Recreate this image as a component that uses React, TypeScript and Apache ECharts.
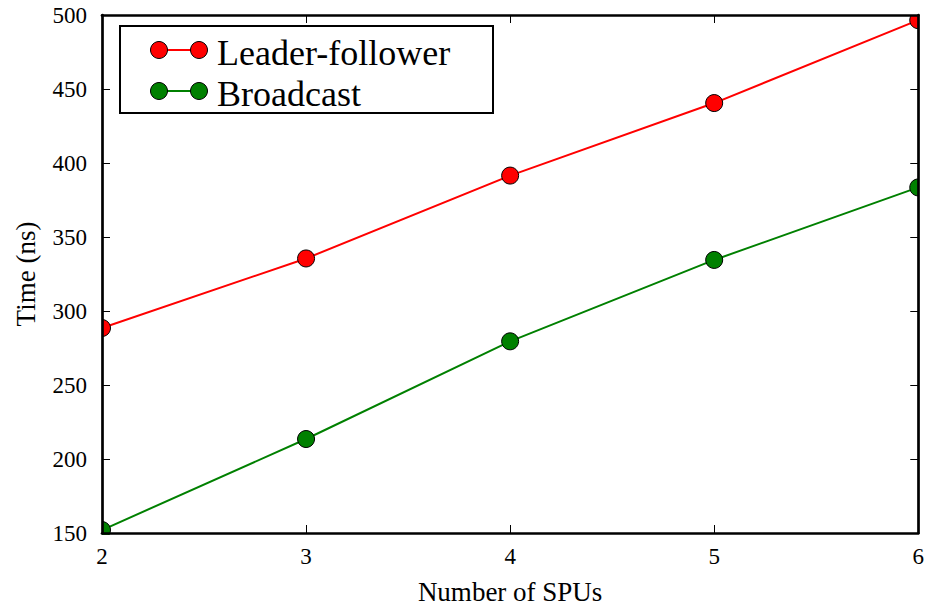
import React, { useEffect, useRef } from "react";
import * as echarts from "echarts";

const xCategories = [2, 3, 4, 5, 6];
const leaderFollower = [288.5, 335.5, 391.5, 440.5, 496.5];
const broadcast = [152, 213.5, 279.5, 334.5, 383.5];
const seriesNames = ["Leader-follower", "Broadcast"];
const seriesColors = ["#ff0000", "#008000"];

const FONT = "Liberation Serif";

export default function App() {
  const ref = useRef<HTMLDivElement>(null);
  useEffect(() => {
    if (!ref.current) return;
    const chart = echarts.init(ref.current, null, { renderer: "svg" });
    const gl = 102, gt = 15, gr = 919, gb = 535;
    const W = 927, H = 610;
    const cover = (x: number, y: number, w: number, h: number) => ({
      type: "rect",
      z: 5,
      silent: true,
      shape: { x, y, width: w, height: h },
      style: { fill: "#fff" },
    });
    const legendRows = seriesNames.map((name, i) => {
      const y = 50 + i * 41;
      return [
        { type: "line", z: 21, shape: { x1: 159, y1: y, x2: 199, y2: y }, style: { stroke: seriesColors[i], lineWidth: 2 } },
        { type: "circle", z: 22, shape: { cx: 159, cy: y, r: 8.5 }, style: { fill: seriesColors[i], stroke: "#000", lineWidth: 1 } },
        { type: "circle", z: 22, shape: { cx: 199, cy: y, r: 8.5 }, style: { fill: seriesColors[i], stroke: "#000", lineWidth: 1 } },
        { type: "text", z: 22, x: 217, y: y + 3, style: { text: name, font: `36px '${FONT}'`, fill: "#000", verticalAlign: "middle" } },
      ];
    }).flat();
    const commonAxisLine = { show: true, lineStyle: { color: "#000", width: 2.7 } };
    const tick = { show: true, inside: true, length: 8, lineStyle: { color: "#000", width: 1 } };
    chart.setOption({
      animation: false,
      grid: { left: gl, top: gt, right: W - gr, bottom: H - gb, containLabel: false },
      xAxis: [
        {
          type: "value", min: 2, max: 6, interval: 1, z: 10,
          name: "Number of SPUs", nameLocation: "middle", nameGap: 45,
          nameTextStyle: { fontFamily: FONT, fontSize: 27, color: "#000" },
          axisLine: commonAxisLine,
          axisTick: tick,
          axisLabel: { fontFamily: FONT, fontSize: 23, color: "#000", margin: 12 },
          splitLine: { show: false },
        },
        {
          type: "value", position: "top", min: 2, max: 6, interval: 1, z: 10,
          axisLine: commonAxisLine,
          axisTick: tick,
          axisLabel: { show: false },
          splitLine: { show: false },
        },
      ],
      yAxis: [
        {
          type: "value", min: 150, max: 500, interval: 50, z: 10,
          name: "Time (ns)", nameLocation: "middle", nameGap: 63, nameRotate: 90,
          nameTextStyle: { fontFamily: FONT, fontSize: 27, color: "#000" },
          axisLine: commonAxisLine,
          axisTick: tick,
          axisLabel: { fontFamily: FONT, fontSize: 23, color: "#000", margin: 15, padding: [6, 0, 0, 0] },
          splitLine: { show: false },
        },
        {
          type: "value", position: "right", min: 150, max: 500, interval: 50, z: 10,
          axisLine: commonAxisLine,
          axisTick: tick,
          axisLabel: { show: false },
          splitLine: { show: false },
        },
      ],
      series: [leaderFollower, broadcast].map((vals, i) => ({
        type: "line",
        name: seriesNames[i],
        data: vals.map((v, j) => [xCategories[j], v]),
        xAxisIndex: 0,
        yAxisIndex: 0,
        clip: false,
        z: 2,
        symbol: "circle",
        symbolSize: 17,
        lineStyle: { color: seriesColors[i], width: 2 },
        itemStyle: { color: seriesColors[i], borderColor: "#000", borderWidth: 1 },
      })),
      graphic: [
        cover(0, 0, gl, H),
        cover(gr, 0, W - gr, H),
        cover(0, 0, W, gt),
        cover(0, gb, W, H - gb),
        { type: "rect", z: 20, shape: { x: 120, y: 26, width: 373, height: 87 }, style: { fill: "#fff", stroke: "#000", lineWidth: 2 } },
        ...legendRows,
      ],
    });
    return () => chart.dispose();
  }, []);
  return <div ref={ref} style={{ width: 927, height: 610, position: "absolute", left: 0, top: 0 }} />;
}
